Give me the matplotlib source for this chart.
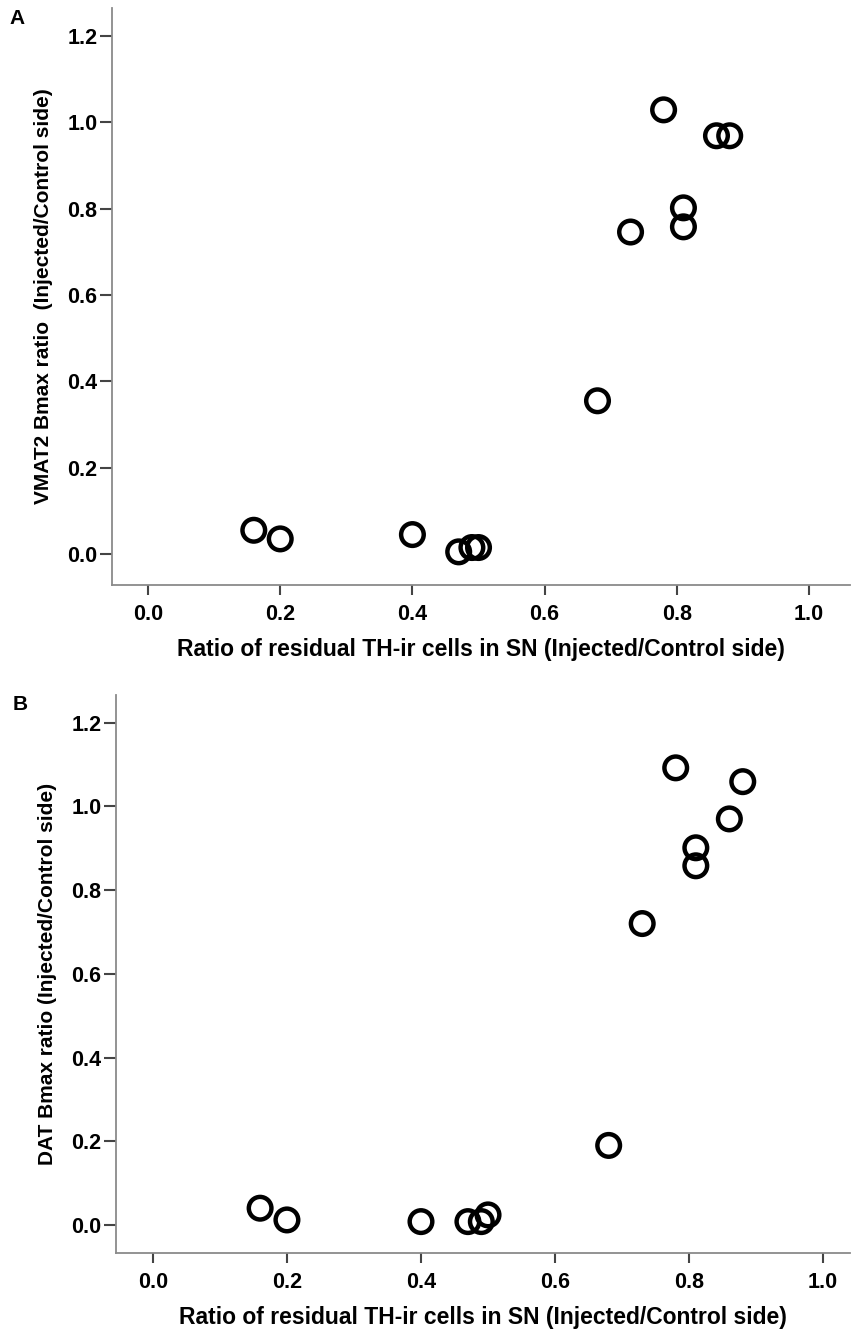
import matplotlib
matplotlib.use("Agg")
import matplotlib.pyplot as plt

plt.rcParams['font.family'] = ['Liberation Sans', 'DejaVu Sans']

# Ratio of residual TH-ir cells in SN (same animals in both panels)
th_ratio = [0.16, 0.20, 0.40, 0.47, 0.49, 0.50, 0.68, 0.73, 0.78, 0.81, 0.81, 0.86, 0.88]
# Panel A: VMAT2 Bmax ratio
vmat2 = [0.055, 0.035, 0.045, 0.005, 0.015, 0.015, 0.355, 0.746, 1.029, 0.802, 0.758, 0.969, 0.969]
# Panel B: DAT Bmax ratio
dat = [0.040, 0.012, 0.008, 0.008, 0.008, 0.024, 0.190, 0.720, 1.092, 0.901, 0.858, 0.970, 1.059]

x_ticks = [0.0, 0.2, 0.4, 0.6, 0.8, 1.0]
y_ticks = [0.0, 0.2, 0.4, 0.6, 0.8, 1.0, 1.2]
x_label = "Ratio of residual TH-ir cells in SN (Injected/Control side)"
y_label_a = "VMAT2 Bmax ratio  (Injected/Control side)"
y_label_b = "DAT Bmax ratio (Injected/Control side)"

W, H = 852, 1330
fig = plt.figure(figsize=(W / 100, H / 100), dpi=100)


def px_axes(x0, y0, x1, y1):
    return fig.add_axes([x0 / W, 1 - y1 / H, (x1 - x0) / W, (y1 - y0) / H])


def style(ax, ys, ylab, xlim, ylim):
    ax.scatter(th_ratio, ys, s=265, facecolors='none', edgecolors='black',
               linewidths=3.2, zorder=3, clip_on=False)
    ax.set_xlim(*xlim)
    ax.set_ylim(*ylim)
    ax.set_xticks(x_ticks)
    ax.set_yticks(y_ticks)
    ax.set_xticklabels([f"{v:.1f}" for v in x_ticks])
    ax.set_yticklabels([f"{v:.1f}" for v in y_ticks])
    for s in ['top', 'right']:
        ax.spines[s].set_visible(False)
    for s in ['left', 'bottom']:
        ax.spines[s].set_color('#8a8a8a')
        ax.spines[s].set_linewidth(1.3)
    ax.tick_params(axis='x', direction='out', length=7, width=1.5, color='#444444',
                   pad=7, labelsize=15.5)
    ax.tick_params(axis='y', direction='out', length=9, width=1.5, color='#444444',
                   pad=1.5, labelsize=15.5)
    for lab in ax.get_xticklabels() + ax.get_yticklabels():
        lab.set_fontweight('bold')
    ax.set_xlabel(x_label, fontsize=16.5, fontweight='bold', labelpad=9)
    ax.set_ylabel(ylab, fontsize=15, fontweight='bold', labelpad=10)


axA = px_axes(112, 8, 850, 585)
style(axA, vmat2, y_label_a, (-0.0545, 1.062), (-0.0718, 1.265))
axB = px_axes(116, 695, 850, 1253)
style(axB, dat, y_label_b, (-0.055, 1.040), (-0.067, 1.266))

fig.text(9 / W, 1 - 18 / H, "A", fontsize=15, fontweight='bold', va='center', ha='left')
fig.text(13 / W, 1 - 705 / H, "B", fontsize=15, fontweight='bold', va='center', ha='left')

fig.savefig("out.png", dpi=100)
